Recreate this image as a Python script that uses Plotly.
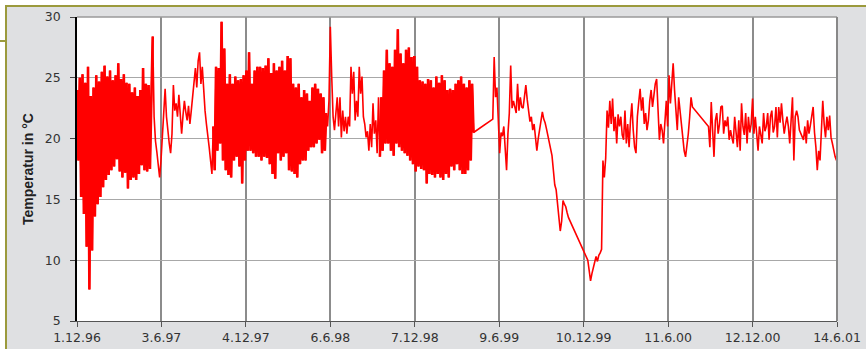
import pandas as pd
import plotly.graph_objects as go

# ---- data, one value every 3 days ----
step = "3D"
start_a = "1996-12-01"   # first reading; the next five lists follow on without a gap

temp_winter_9697 = [  # dense, strongly fluctuating
    24.0, 18.2, 25.0, 15.2, 25.3, 13.8, 24.6, 11.1, 25.9, 7.6,
    23.5, 10.8, 24.2, 13.6, 25.2, 14.6, 24.7, 15.2, 25.5, 16.0,
    26.0, 16.6, 25.1, 17.0, 25.6, 17.4, 24.8, 17.7, 25.2, 18.3,
    26.2, 17.3, 24.9, 16.8, 25.3, 17.2, 24.6, 15.9, 24.5, 16.6,
    23.8, 16.8, 24.2, 16.6, 23.5, 17.1, 24.0, 17.8, 25.8, 17.4,
    24.5, 17.3, 24.4, 17.5, 23.2, 28.4,
]
temp_summer_97 = [
    21.8, 19.8, 18.9, 17.5, 16.8, 18.2, 20.4, 22.5, 24.1, 21.8,
    20.4, 19.6, 18.8, 20.4, 24.4, 22.3, 22.9, 21.8, 23.6, 22.1,
    20.4, 21.9, 23.1, 22.2, 21.5, 22.7, 21.2, 22.3, 23.4, 24.5,
    25.8, 24.2, 26.4, 27.1, 24.5, 25.9, 23.7, 22.3, 21.2, 20.4,
    19.3, 18.2, 17.1,
]
temp_winter_9798 = [  # dense
    21.0, 17.4, 25.9, 19.0, 25.8, 19.6, 29.6, 18.2, 27.4, 17.4,
    24.5, 17.0, 25.3, 16.8, 24.5, 18.2, 25.1, 18.5, 24.8, 17.7,
    24.9, 16.3, 25.2, 18.2, 25.6, 19.0, 27.1, 19.0, 24.5, 18.8,
    25.6, 18.5, 25.9, 18.5, 25.9, 18.2, 25.8, 18.5, 26.0, 18.4,
    26.6, 17.9, 25.4, 17.1, 26.2, 16.7, 25.6, 18.8, 25.9, 18.2,
    26.4, 18.5, 25.6, 18.8, 26.8, 17.4, 26.6, 17.3, 24.5, 17.1,
    24.2, 16.8, 24.5, 17.9, 23.4, 18.2, 24.0, 18.2, 23.7, 19.0,
    23.1, 19.3, 24.2, 19.3, 24.5, 19.6, 24.1, 19.9, 23.7, 18.8,
    23.4, 19.0, 22.1,
]
temp_summer_98 = [
    21.0, 23.1, 29.2, 25.1, 21.8, 20.7, 22.3, 23.4, 21.0, 23.4,
    20.1, 22.3, 20.6, 21.8, 20.4, 21.8, 21.0, 25.9, 23.7, 25.5,
    21.5, 23.1, 21.8, 25.9, 23.7, 25.1, 21.8, 21.2, 20.1, 20.6,
    19.0, 21.2, 19.3, 22.9, 20.4, 21.5, 18.8, 23.4,
]
temp_winter_9899 = [  # dense
    18.5, 23.4, 19.0, 25.6, 19.6, 27.3, 19.6, 26.2, 19.0, 25.9,
    18.6, 27.3, 19.6, 29.0, 19.3, 27.0, 19.0, 26.2, 18.8, 27.3,
    18.6, 27.5, 18.2, 26.7, 17.9, 26.8, 17.3, 25.9, 17.7, 24.8,
    17.5, 24.7, 17.4, 24.5, 16.3, 24.9, 17.1, 24.8, 17.0, 24.2,
    16.8, 25.1, 17.1, 24.6, 16.8, 25.2, 16.6, 24.8, 17.1, 24.0,
    16.8, 24.1, 17.7, 24.0, 17.4, 24.5, 17.9, 24.8, 17.4, 25.1,
    17.1, 24.5, 17.1, 24.2, 17.4, 24.8, 18.2, 24.5, 20.5,
]

start_b = "1999-05-26"
temp_b = [
    21.6, 26.7, 23.4, 24.2, 21.2, 18.8, 20.5, 20.2, 21.0, 19.0,
    17.4, 20.4, 22.1, 26.0, 22.5, 23.1, 22.7, 22.1, 24.5, 22.3,
    23.4, 22.6, 22.5, 23.7, 24.4, 23.2, 22.1, 21.4, 21.8, 20.7,
    21.2, 20.3, 19.0, 20.0, 20.8, 21.3, 22.2, 21.6, 21.3, 20.8,
    20.3, 19.6, 19.1, 18.6, 17.4, 16.2, 15.8, 14.6, 13.4, 12.4,
    13.2, 14.9, 14.6, 14.4, 13.9, 13.5,
]

start_c = "1999-12-19"
temp_c = [
    10.0, 9.3, 8.3, 8.9, 9.4, 9.7, 10.3, 9.9, 10.4, 10.6,
    10.9, 18.2, 16.8, 18.4, 22.3, 20.9, 23.1, 21.2, 23.3, 20.6,
    21.8, 19.6, 22.0, 21.0, 21.8, 20.3, 19.9, 22.3, 19.6, 21.2,
    19.3, 21.5, 22.9, 20.7, 19.3, 18.8, 21.8, 23.0, 24.1, 22.3,
    23.4, 21.2, 22.1, 20.7, 21.5, 23.1, 24.0, 22.6, 23.8, 24.5,
    24.9, 21.8, 19.9, 21.2, 20.7, 19.6, 21.8, 23.1, 21.0, 25.2,
    22.9, 24.5, 26.2, 24.0, 21.8, 20.7, 23.4, 22.3, 20.7, 19.9,
    19.0, 18.5, 19.3, 20.4, 21.8, 23.4, 22.6,
]

start_d = "2000-09-07"
temp_d = [
    21.0, 19.3, 23.0, 20.7, 18.5, 21.5, 22.1, 20.4, 21.2, 22.6,
    22.7, 20.4, 21.5, 21.0, 21.8, 19.9, 20.7, 20.1, 19.6, 21.8,
    20.4, 19.3, 21.5, 19.0, 22.9, 21.0, 20.3, 22.1, 19.6, 21.8,
    20.5, 21.2, 23.3, 20.4, 21.8, 20.1, 19.0, 21.0, 20.2, 19.6,
    22.1, 20.6, 21.0, 22.1, 19.9, 21.8, 22.3, 20.5, 21.0, 22.6,
    20.1, 22.6, 21.3, 22.9, 21.5, 20.4, 21.2, 21.8, 21.0, 19.6,
    21.5, 23.4, 18.2, 21.8, 22.3, 21.8, 20.7, 20.4, 20.1, 19.9,
    21.0, 19.6, 21.5, 20.4, 21.1, 21.8, 22.6, 20.5, 19.3, 17.4,
    19.0, 18.2, 20.6, 23.1, 21.2, 20.1, 21.8, 20.7, 21.9, 20.1,
    19.6, 19.0, 18.5, 18.2,
]

tick_dates = ["1996-12-01", "1997-06-03", "1997-12-04", "1998-06-06", "1998-12-07",
              "1999-06-09", "1999-12-10", "2000-06-11", "2000-12-12", "2001-06-14"]
tick_labels = ["1.12.96", "3.6.97", "4.12.97", "6.6.98", "7.12.98",
               "9.6.99", "10.12.99", "11.6.00", "12.12.00", "14.6.01"]
y_ticks = [5, 10, 15, 20, 25, 30]
y_title = "Temperatur in °C"

# ---- build series ----
first_block = [(temp_winter_9697, True), (temp_summer_97, False), (temp_winter_9798, True),
               (temp_summer_98, False), (temp_winter_9899, True)]
n_first = sum(len(v) for v, _ in first_block)
dates_a = pd.date_range(start_a, periods=n_first, freq=step)

xs, ys = [], []
dense_parts = []
pos = 0
for vals, dense in first_block:
    d = list(dates_a[pos:pos + len(vals)])
    if dense:
        dense_parts.append((d, vals))
    xs.extend(d)
    ys.extend(vals)
    pos += len(vals)
for s, vals in [(start_b, temp_b), (start_c, temp_c), (start_d, temp_d)]:
    xs.extend(pd.date_range(s, periods=len(vals), freq=step))
    ys.extend(vals)

W, H = 866, 349
L, R, T, B = 77, 29, 17, 28
pw, ph = W - L - R, H - T - B


def px(xp):
    return (xp - L) / pw


def py(yp):
    return (H - B - yp) / ph


fig = go.Figure()
for d, vals in dense_parts:
    fig.add_trace(go.Scatter(x=d, y=vals, mode="lines",
                             line=dict(color="#ff0000", width=2.6),
                             hoverinfo="skip", showlegend=False))
fig.add_trace(go.Scatter(x=xs, y=ys, mode="lines",
                         line=dict(color="#ff0000", width=1.6),
                         hoverinfo="skip", showlegend=False))

tickfont = dict(family="DejaVu Sans", size=12.5, color="#333333")
fig.update_layout(
    width=W, height=H,
    margin=dict(l=L, r=R, t=T, b=B, pad=0, autoexpand=False),
    paper_bgcolor="#dfe0e2",
    plot_bgcolor="#ffffff",
    showlegend=False,
    xaxis=dict(
        type="date", automargin=False,
        range=[tick_dates[0], tick_dates[-1]],
        tickmode="array", tickvals=tick_dates, ticktext=tick_labels,
        showgrid=True, gridcolor="#8c8c8c", gridwidth=1.5,
        showline=True, linecolor="#555555", linewidth=1.2,
        ticks="outside", ticklen=5, tickcolor="#555555", tickwidth=1.2,
        tickfont=tickfont, zeroline=False, fixedrange=True,
    ),
    yaxis=dict(
        range=[5, 30], tickmode="array", tickvals=y_ticks, automargin=False,
        showgrid=True, gridcolor="#a8a8a8", gridwidth=1,
        showline=True, linecolor="#000000", linewidth=1.6,
        ticks="outside", ticklen=5, tickcolor="#444444", tickwidth=1.2,
        tickfont=tickfont, zeroline=False, ticklabelstandoff=7, fixedrange=True,
    ),
    shapes=[
        dict(type="rect", xref="paper", yref="paper", x0=px(0), x1=px(5.5), y0=py(H), y1=py(0),
             fillcolor="#ffffff", line=dict(width=0), layer="below"),
        dict(type="rect", xref="paper", yref="paper", x0=px(0), x1=px(W), y0=py(5.5), y1=py(0),
             fillcolor="#ffffff", line=dict(width=0), layer="below"),
        dict(type="line", xref="paper", yref="paper", x0=px(5), x1=px(W), y0=py(6), y1=py(6),
             line=dict(color="#9b9a3c", width=2)),
        dict(type="line", xref="paper", yref="paper", x0=px(6), x1=px(6), y0=py(5), y1=py(H),
             line=dict(color="#9b9a3c", width=2)),
        dict(type="line", xref="paper", yref="paper", x0=px(0), x1=px(6), y0=py(41), y1=py(41),
             line=dict(color="#9b9a3c", width=2)),
        dict(type="line", xref="paper", yref="paper", x0=0, x1=1, y0=1, y1=1,
             line=dict(color="#9a9a9a", width=1.5)),
        dict(type="line", xref="paper", yref="paper", x0=1, x1=1, y0=0, y1=1,
             line=dict(color="#888888", width=2)),
    ],
    annotations=[
        dict(text="<b>" + y_title + "</b>", xref="paper", yref="paper",
             x=px(28), y=0.5, textangle=-90, showarrow=False,
             xanchor="center", yanchor="middle",
             font=dict(family="Liberation Sans", size=14, color="#222222")),
    ],
)

fig.write_html(
    "out.html",
    config={"displayModeBar": False},
    post_script="document.body.style.margin='0';document.body.style.padding='0';"
                "document.documentElement.style.overflow='hidden';",
)
